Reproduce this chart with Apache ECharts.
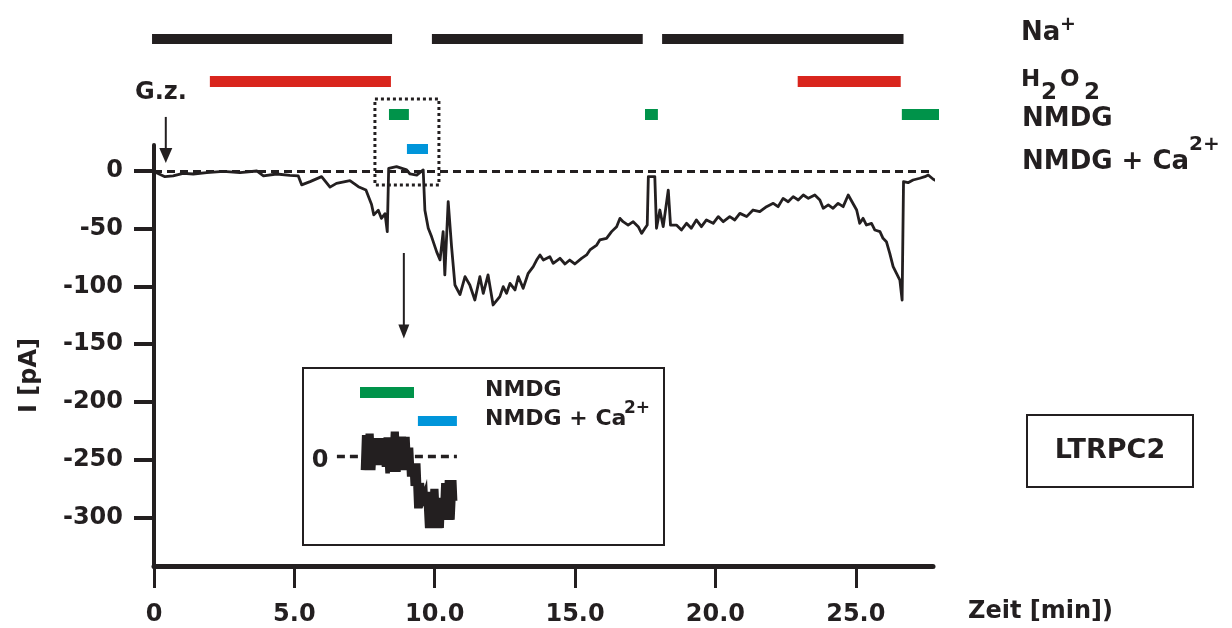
<!DOCTYPE html>
<html><head><meta charset="utf-8">
<script src="https://cdn.jsdelivr.net/npm/echarts@6/dist/echarts.min.js"></script>
<style>html,body{margin:0;padding:0;background:#fff}#c{width:1232px;height:628px}</style>
</head><body><div id="c"></div>
<script>
// ---------- data ----------
const xTicks = [0, 5, 10, 15, 20, 25];
const yTicks = [0, -50, -100, -150, -200, -250, -300];
const xAxisTitle = 'Zeit [min])';
const yAxisTitle = 'I [pA]';

// main current trace: [time (min), I (pA)]
const mainTrace = [
 [0.05,-1],[0.10,-1.4],[0.39,-4.9],[0.68,-4.3],[1.04,-2],[1.40,-2.6],[1.88,-1.4],[2.47,-0.3],
 [3.06,-1.4],[3.66,0],[3.90,-4.3],[4.37,-2.6],[4.84,-3.8],[5.14,-4.3],[5.26,-12],[5.56,-9.2],
 [5.97,-4.9],[6.27,-14],[6.50,-10.7],[6.98,-8.4],[7.28,-13.6],[7.55,-16.5],[7.75,-29],[7.83,-38],
 [7.99,-34],[8.10,-41],[8.23,-37],[8.31,-52.5],[8.36,2.3],[8.64,3.8],[9.00,0.9],[9.12,-2.6],
 [9.36,-3.5],[9.59,0.9],[9.65,-34],[9.77,-49.6],[9.89,-57],[10.07,-70],[10.19,-77],[10.30,-52.5],
 [10.36,-90],[10.48,-26.5],[10.60,-65.5],[10.72,-98.7],[10.90,-107],[11.08,-91.5],[11.25,-98.7],
 [11.43,-111.7],[11.61,-91.5],[11.73,-106],[11.90,-90],[12.08,-116],
 [12.32,-108.8],[12.44,-100.1],[12.56,-105.9],[12.68,-97.3],[12.86,-103],[12.98,-91.5],[13.15,-101.6],
 [13.33,-88.6],[13.51,-82.8],[13.63,-77.1],[13.75,-72.7],[13.87,-77.1],[14.10,-74.2],[14.22,-79.9],
 [14.46,-75.6],[14.64,-80.5],[14.81,-77.1],[14.99,-80.5],[15.23,-75.6],[15.41,-72.7],[15.53,-68.4],
 [15.77,-64.1],[15.88,-59.7],[16.12,-58.3],[16.30,-52.5],[16.48,-48.2],[16.60,-41],[16.71,-43.9],
 [16.89,-46.8],[17.07,-43.9],[17.25,-48.2],[17.37,-54],[17.49,-49.6],[17.57,-46.8],[17.61,-4.9],
 [17.84,-4.9],[17.90,-49.6],[18.02,-33.8],[18.14,-48.2],[18.32,-16.5],[18.40,-46.8],[18.61,-46.8],
 [18.79,-51.1],[18.97,-45.3],[19.14,-49.6],[19.32,-42.4],[19.50,-48.2],[19.68,-42.4],[19.92,-45.3],
 [20.10,-39.5],[20.28,-43.9],[20.51,-39.5],[20.69,-42.4],[20.87,-36.7],[21.11,-39.5],[21.34,-33.8],
 [21.58,-35.2],[21.82,-30.9],[22.06,-28],[22.23,-30.9],[22.41,-23.7],[22.59,-26.6],[22.77,-22.2],
 [22.95,-25.1],[23.13,-20.8],[23.31,-23.7],[23.54,-20.8],[23.72,-25.1],[23.84,-32.3],[24.02,-29.4],
 [24.19,-32.3],[24.37,-28],[24.55,-30.9],[24.73,-20.8],[25.03,-33.8],[25.14,-45.3],[25.26,-41],
 [25.38,-46.8],[25.56,-45.3],[25.68,-51.1],[25.86,-52.5],[25.97,-58.3],[26.09,-61.2],[26.21,-71.3],
 [26.33,-82.8],[26.45,-88.6],[26.57,-94.4],[26.65,-111.7],[26.70,-9.2],[26.86,-10.1],[27.04,-7.8],
 [27.28,-6.3],[27.46,-4.9],[27.58,-3.5],[27.76,-7.2],[28.00,-10]
];

// solution application bars: [start, end] in min
const naBars   = [[-0.07, 8.48], [9.9, 17.41], [18.1, 26.7]];
const h2o2Bars = [[1.99, 8.44], [22.93, 26.6]];
const nmdgBars = [[8.37, 9.08], [17.49, 17.95], [26.64, 28.03]];
const caBars   = [[9.01, 9.76]];

// inset (expanded recording): [time (s), I (pA)]
const insetTrace = [
 [20.0,-4.6],[20.4,7.3],[21.0,-4.6],[21.6,7.8],[22.2,-4.6],[22.8,7.8],[23.4,-4.6],[24.0,6.2],
 [24.6,-2.9],[25.2,6.2],[25.8,-2.9],[26.4,6.2],[27.0,-3.5],[27.6,6.5],[28.2,-5.7],[28.8,6.5],
 [29.4,-5.2],[30.0,8.4],[30.6,-5.2],[31.2,8.4],[31.8,-5.2],[32.4,6.7],[33.0,-4.6],[33.6,6.7],
 [34.2,-4.6],[34.8,6.7],[35.4,-6.8],[36.0,3.0],[36.6,-10],[37.2,-2.3],[37.8,-17.6],[38.4,-2.3],
 [39.0,-17.6],[39.6,-9],[40.2,-14],[40.8,-12],[41.4,-24.3],[42.0,-12],[42.6,-24.3],[43.2,-11],
 [43.8,-24.3],[44.4,-11],[45.0,-24.3],[45.6,-14],[46.2,-24.3],[46.8,-9],[47.4,-21.5],[48.0,-8],
 [48.6,-21.5],[49.2,-8],[49.8,-21.5],[50.4,-8],[50.7,-15]
];
const insetNmdgBars = [[19, 37]];
const insetCaBars   = [[38.3, 51.3]];
const insetZero     = [[11.3, 0], [51.3, 0]];

// ---------- style / layout ----------
const INK = '#231f20', RED = '#d9251d', GREEN = '#00934a', BLUE = '#0095da';
const FONT = '"DejaVu Sans", "Liberation Sans", sans-serif';
const XMAX = 27.75;
const PLOT = {left: 154, width: 779};
// annotation geometry in data units of the main axes
const annot = {
  box: {t0: 7.87, t1: 10.15, i0: 62.3, i1: -12.1},
  callout: {t: 8.9, i0: -71, i1: -145},
  gz: {t: 0.42, i0: 46.8, i1: 6.9}
};
const rows = [ // annotation rows: center y px, thickness
  {c: 39, h: 10}, {c: 81.5, h: 11}, {c: 114.5, h: 11}, {c: 149, h: 10}
];

const grids = [{left: PLOT.left, width: PLOT.width, top: 145, height: 421}];
rows.forEach(r => grids.push({left: PLOT.left, width: PLOT.width, top: r.c - r.h / 2, height: r.h}));
grids.push({left: 303, top: 368, width: 361, height: 177}); // inset

const labelStyle = {fontFamily: FONT, fontWeight: 'bold', fontSize: 24, color: INK};

const xAxes = [{
  type: 'value', gridIndex: 0, min: 0, max: XMAX,
  axisLine: {show: true, onZero: false, lineStyle: {color: INK, width: 5}},
  axisTick: {show: true, length: 22, lineStyle: {color: INK, width: 3}, customValues: xTicks},
  axisLabel: Object.assign({customValues: xTicks, margin: 37,
    formatter: v => v === 0 ? '0' : v.toFixed(1)}, labelStyle),
  splitLine: {show: false}
}];
const yAxes = [{
  type: 'value', gridIndex: 0, min: -342, max: 22.5,
  axisLine: {show: true, onZero: false, lineStyle: {color: INK, width: 4}},
  axisTick: {show: true, length: 20, lineStyle: {color: INK, width: 4}, customValues: yTicks},
  axisLabel: Object.assign({customValues: yTicks, margin: 31}, labelStyle),
  splitLine: {show: false},
  name: yAxisTitle, nameLocation: 'middle', nameGap: 112, nameRotate: 90,
  nameTextStyle: Object.assign({padding: [0, 40, 0, 0]}, labelStyle)
}];
for (let g = 1; g <= 4; g++) {
  xAxes.push({type: 'value', gridIndex: g, min: 0, max: XMAX, show: false});
  yAxes.push({type: 'value', gridIndex: g, min: 0, max: 1, show: false});
}
xAxes.push({type: 'value', gridIndex: 5, min: 0, max: 120.33, show: false});
yAxes.push({type: 'value', gridIndex: 5, min: -30, max: 30, show: false});

function barSeries(arr, g, color, width) {
  return arr.map(([s, e]) => ({
    type: 'line', xAxisIndex: g, yAxisIndex: g, data: [[s, 0.5], [e, 0.5]],
    symbol: 'none', clip: false, silent: true, animation: false,
    lineStyle: {color: color, width: width, cap: 'butt'}
  }));
}
function insetBar(arr, y, color, width) {
  return arr.map(([s, e]) => ({
    type: 'line', xAxisIndex: 5, yAxisIndex: 5, data: [[s, y], [e, y]],
    symbol: 'none', clip: false, silent: true, animation: false,
    lineStyle: {color: color, width: width, cap: 'butt'}
  }));
}

function arrow(children, p0, p1, lw, hw, hl) {
  const dir = p1[1] > p0[1] ? 1 : -1;
  children.push({type: 'line', shape: {x1: p0[0], y1: p0[1], x2: p1[0], y2: p1[1] - dir * hl * 0.8},
    style: {stroke: INK, lineWidth: lw}});
  children.push({type: 'polygon', shape: {points: [[p1[0], p1[1]], [p1[0] - hw / 2, p1[1] - dir * hl], [p1[0] + hw / 2, p1[1] - dir * hl]]},
    style: {fill: INK}});
}

const series = [
  {
    type: 'line', xAxisIndex: 0, yAxisIndex: 0, data: mainTrace, symbol: 'none', clip: false,
    animation: false, lineStyle: {color: INK, width: 2.8, join: 'round'},
    markLine: {symbol: 'none', silent: true, animation: false, label: {show: false},
      lineStyle: {color: INK, width: 3, type: [8, 5]}, data: [{yAxis: 0}]}
  },
  {
    type: 'custom', xAxisIndex: 0, yAxisIndex: 0, data: [[0, 0]], clip: false, silent: true, animation: false,
    renderItem: function (params, api) {
      const c = (t, i) => api.coord([t, i]);
      const b0 = c(annot.box.t0, annot.box.i0), b1 = c(annot.box.t1, annot.box.i1);
      const ch = [{type: 'rect', shape: {x: b0[0], y: b0[1], width: b1[0] - b0[0], height: b1[1] - b0[1]},
        style: {fill: 'none', stroke: INK, lineWidth: 3, lineDash: [3, 3]}}];
      arrow(ch, c(annot.callout.t, annot.callout.i0), c(annot.callout.t, annot.callout.i1), 2, 11, 14);
      arrow(ch, c(annot.gz.t, annot.gz.i0), c(annot.gz.t, annot.gz.i1), 2, 13, 15);
      return {type: 'group', children: ch};
    }
  }
]
.concat(barSeries(naBars, 1, INK, rows[0].h))
.concat(barSeries(h2o2Bars, 2, RED, rows[1].h))
.concat(barSeries(nmdgBars, 3, GREEN, rows[2].h))
.concat(barSeries(caBars, 4, BLUE, rows[3].h))
.concat(insetBar(insetNmdgBars, 21.7, GREEN, 11))
.concat(insetBar(insetCaBars, 12, BLUE, 10))
.concat([
  {type: 'line', xAxisIndex: 5, yAxisIndex: 5, data: insetZero, symbol: 'none', silent: true, animation: false,
   lineStyle: {color: INK, width: 3.5, type: [8, 5]}},
  {type: 'line', xAxisIndex: 5, yAxisIndex: 5, data: insetTrace, symbol: 'none', silent: true, animation: false,
   lineStyle: {color: INK, width: 4.6, join: 'miter'}}
]);

function txt(x, y, text, size, align) {
  return {type: 'text', x: x, y: y, silent: true,
    style: {text: text, fill: INK, font: 'bold ' + size + 'px ' + FONT, align: align || 'left', verticalAlign: 'middle'}};
}
const graphic = [
  // x axis title
  txt(968, 612, xAxisTitle, 24),
  // right-hand legend of solutions
  txt(1021, 33.5, 'Na', 26), txt(1060, 25, '+', 19),
  txt(1021, 80, 'H', 23), txt(1041, 93.5, '2', 23), txt(1060, 80, 'O', 23), txt(1084, 93.5, '2', 23),
  txt(1022, 119, 'NMDG', 26),
  txt(1022, 162.5, 'NMDG + Ca', 26), txt(1189, 145, '2+', 20),
  txt(135, 93, 'G.z.', 24),
  // inset frame and texts
  {type: 'rect', silent: true, shape: {x: 303, y: 368, width: 361, height: 177}, style: {fill: 'none', stroke: INK, lineWidth: 2}},
  txt(485, 390, 'NMDG', 22), txt(485, 419, 'NMDG + Ca', 22), txt(624, 409, '2+', 17),
  txt(320, 461, '0', 24, 'center'),
  // LTRPC2 box
  {type: 'rect', silent: true, shape: {x: 1027, y: 415, width: 166, height: 72}, style: {fill: 'none', stroke: INK, lineWidth: 2}},
  txt(1110, 451, 'LTRPC2', 27, 'center')
];

const chart = echarts.init(document.getElementById('c'), null, {renderer: 'canvas'});
chart.setOption({
  animation: false,
  backgroundColor: '#ffffff',
  grid: grids, xAxis: xAxes, yAxis: yAxes, series: series, graphic: graphic
});
</script></body></html>
